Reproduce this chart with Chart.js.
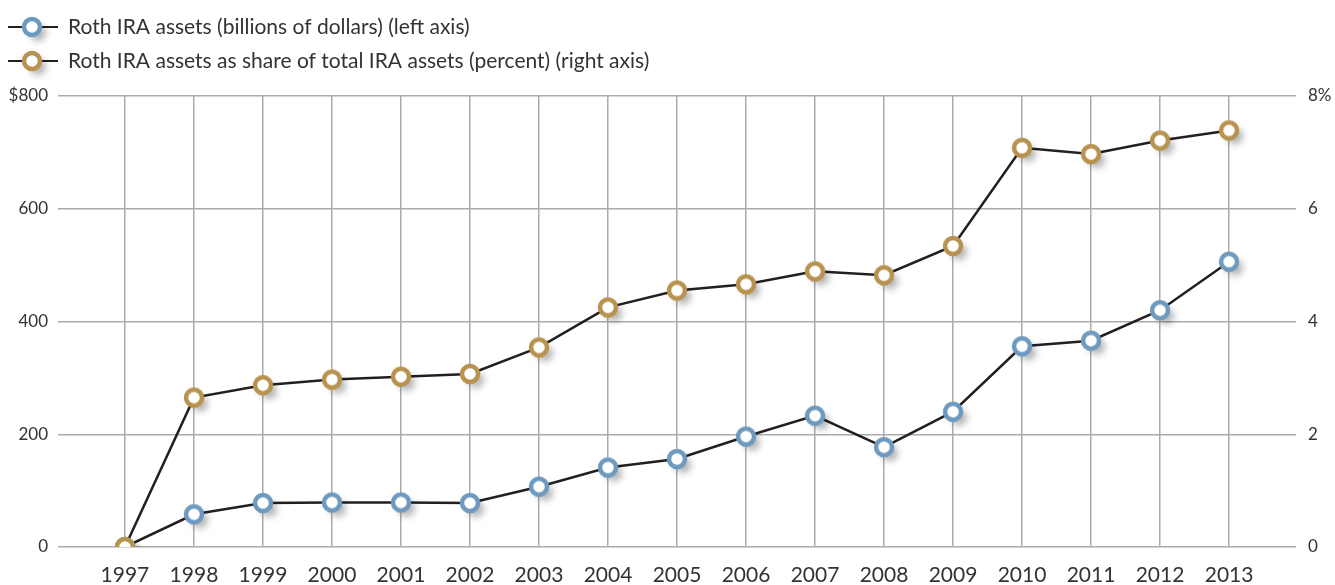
<!DOCTYPE html>
<html>
<head>
<meta charset="utf-8">
<script src="https://cdn.jsdelivr.net/npm/chart.js@4.4.1/dist/chart.umd.min.js"></script>
<style>
  html, body { margin: 0; padding: 0; background: #fff; }
  #wrap { position: relative; width: 1335px; height: 585px; }
</style>
</head>
<body>
<div id="wrap"><canvas id="rothChart" width="1335" height="585"></canvas></div>
<script>
// Roth IRA data
var years = [1997, 1998, 1999, 2000, 2001, 2002, 2003, 2004, 2005, 2006, 2007, 2008, 2009, 2010, 2011, 2012, 2013];
var rothAssets = [0, 58, 78, 79, 79, 78, 107, 141, 156, 196, 233, 177, 240, 356, 366, 420, 506];
var rothShare = [0, 2.65, 2.87, 2.97, 3.02, 3.07, 3.54, 4.25, 4.55, 4.66, 4.89, 4.82, 5.34, 7.08, 6.97, 7.21, 7.39];
var leftTicks = [0, 200, 400, 600, 800];
var rightTicks = [0, 2, 4, 6, 8];
var seriesLabels = [
    'Roth IRA assets (billions of dollars) (left axis)',
    'Roth IRA assets as share of total IRA assets (percent) (right axis)'
];

var BLUE = '#6f9abf';
var GOLD = '#b8924f';
var INK = '#231f20';
var GRID = '#ababab';
var FONT = 'Lato, "Open Sans", sans-serif';

// ring marker with a soft drop shadow, used as pointStyle
function makeMarker(color) {
    var c = document.createElement('canvas');
    c.width = 48; c.height = 48;
    var g = c.getContext('2d');
    g.save();
    g.shadowColor = 'rgba(0,0,0,0.3)';
    g.shadowBlur = 7;
    g.shadowOffsetX = 6;
    g.shadowOffsetY = 6;
    g.beginPath();
    g.arc(24, 24, 8, 0, Math.PI * 2);
    g.fillStyle = '#fff';
    g.fill();
    g.restore();
    g.beginPath();
    g.arc(24, 24, 8, 0, Math.PI * 2);
    g.fillStyle = '#fff';
    g.fill();
    g.lineWidth = 4.5;
    g.strokeStyle = color;
    g.stroke();
    return c;
}
var blueMarker = makeMarker(BLUE);
var goldMarker = makeMarker(GOLD);

function toPoints(vals) {
    return vals.map(function(v, i) { return { x: years[i], y: v }; });
}

// legend drawn on the canvas, one row per series
var stackedLegend = {
    id: 'stackedLegend',
    afterDraw: function(chart) {
        var ctx = chart.ctx;
        ctx.save();
        [0, 1].forEach(function(i) {
            var ds = chart.data.datasets.filter(function(d) { return d.legendRow === i; })[0];
            var y = 27 + 34 * i;
            ctx.strokeStyle = INK;
            ctx.lineWidth = 2;
            ctx.beginPath();
            ctx.moveTo(8, y);
            ctx.lineTo(58, y);
            ctx.stroke();
            ctx.drawImage(ds.pointStyle, 32 - 24, y - 24);
            ctx.fillStyle = '#333';
            ctx.font = '21px ' + FONT;
            ctx.textBaseline = 'middle';
            ctx.textAlign = 'left';
            ctx.fillText(ds.label, 68, y);
        });
        ctx.restore();
    }
};

var ctx = document.getElementById('rothChart').getContext('2d');
var rothChart = new Chart(ctx, {
    type: 'line',
    data: {
        datasets: [{
            label: seriesLabels[0],
            legendRow: 0,
            data: toPoints(rothAssets),
            yAxisID: 'yLeft',
            borderColor: INK,
            borderWidth: 2.5,
            pointStyle: blueMarker,
            order: 1
        }, {
            label: seriesLabels[1],
            legendRow: 1,
            data: toPoints(rothShare),
            yAxisID: 'yRight',
            borderColor: INK,
            borderWidth: 2.5,
            pointStyle: goldMarker,
            order: 0
        }]
    },
    options: {
        responsive: false,
        animation: false,
        layout: { padding: { top: 96, left: 0, right: 0, bottom: 0 } },
        plugins: {
            legend: { display: false },
            tooltip: { enabled: false }
        },
        elements: {
            line: { tension: 0 },
            point: { radius: 10, hoverRadius: 10 }
        },
        scales: {
            x: {
                type: 'linear',
                min: years[0] - 0.97,
                max: years[years.length - 1] + 0.97,
                afterBuildTicks: function(scale) {
                    scale.ticks = years.map(function(v) { return { value: v }; });
                },
                afterFit: function(scale) { scale.height = 38; },
                grid: { color: GRID, lineWidth: 1.5, drawTicks: false },
                border: { display: false },
                ticks: {
                    autoSkip: false,
                    maxRotation: 0,
                    padding: 16,
                    color: '#333',
                    font: { family: FONT, size: 21 },
                    callback: function(v) { return String(v); }
                }
            },
            yLeft: {
                position: 'left',
                min: 0,
                max: 800,
                afterBuildTicks: function(scale) {
                    scale.ticks = leftTicks.map(function(v) { return { value: v }; });
                },
                afterFit: function(scale) { scale.width = 58; },
                grid: { color: GRID, lineWidth: 1.5, drawTicks: false },
                border: { display: false },
                ticks: {
                    padding: 10,
                    color: '#333',
                    font: { family: FONT, size: 17 },
                    callback: function(v) { return v === 800 ? '$800' : v; }
                }
            },
            yRight: {
                position: 'right',
                min: 0,
                max: 8,
                afterBuildTicks: function(scale) {
                    scale.ticks = rightTicks.map(function(v) { return { value: v }; });
                },
                afterFit: function(scale) { scale.width = 39; },
                grid: { display: false, drawTicks: false },
                border: { display: false },
                ticks: {
                    padding: 12,
                    color: '#333',
                    font: { family: FONT, size: 17 },
                    callback: function(v) { return v === 8 ? '8%' : v; }
                }
            }
        }
    },
    plugins: [stackedLegend]
});
</script>
</body>
</html>
